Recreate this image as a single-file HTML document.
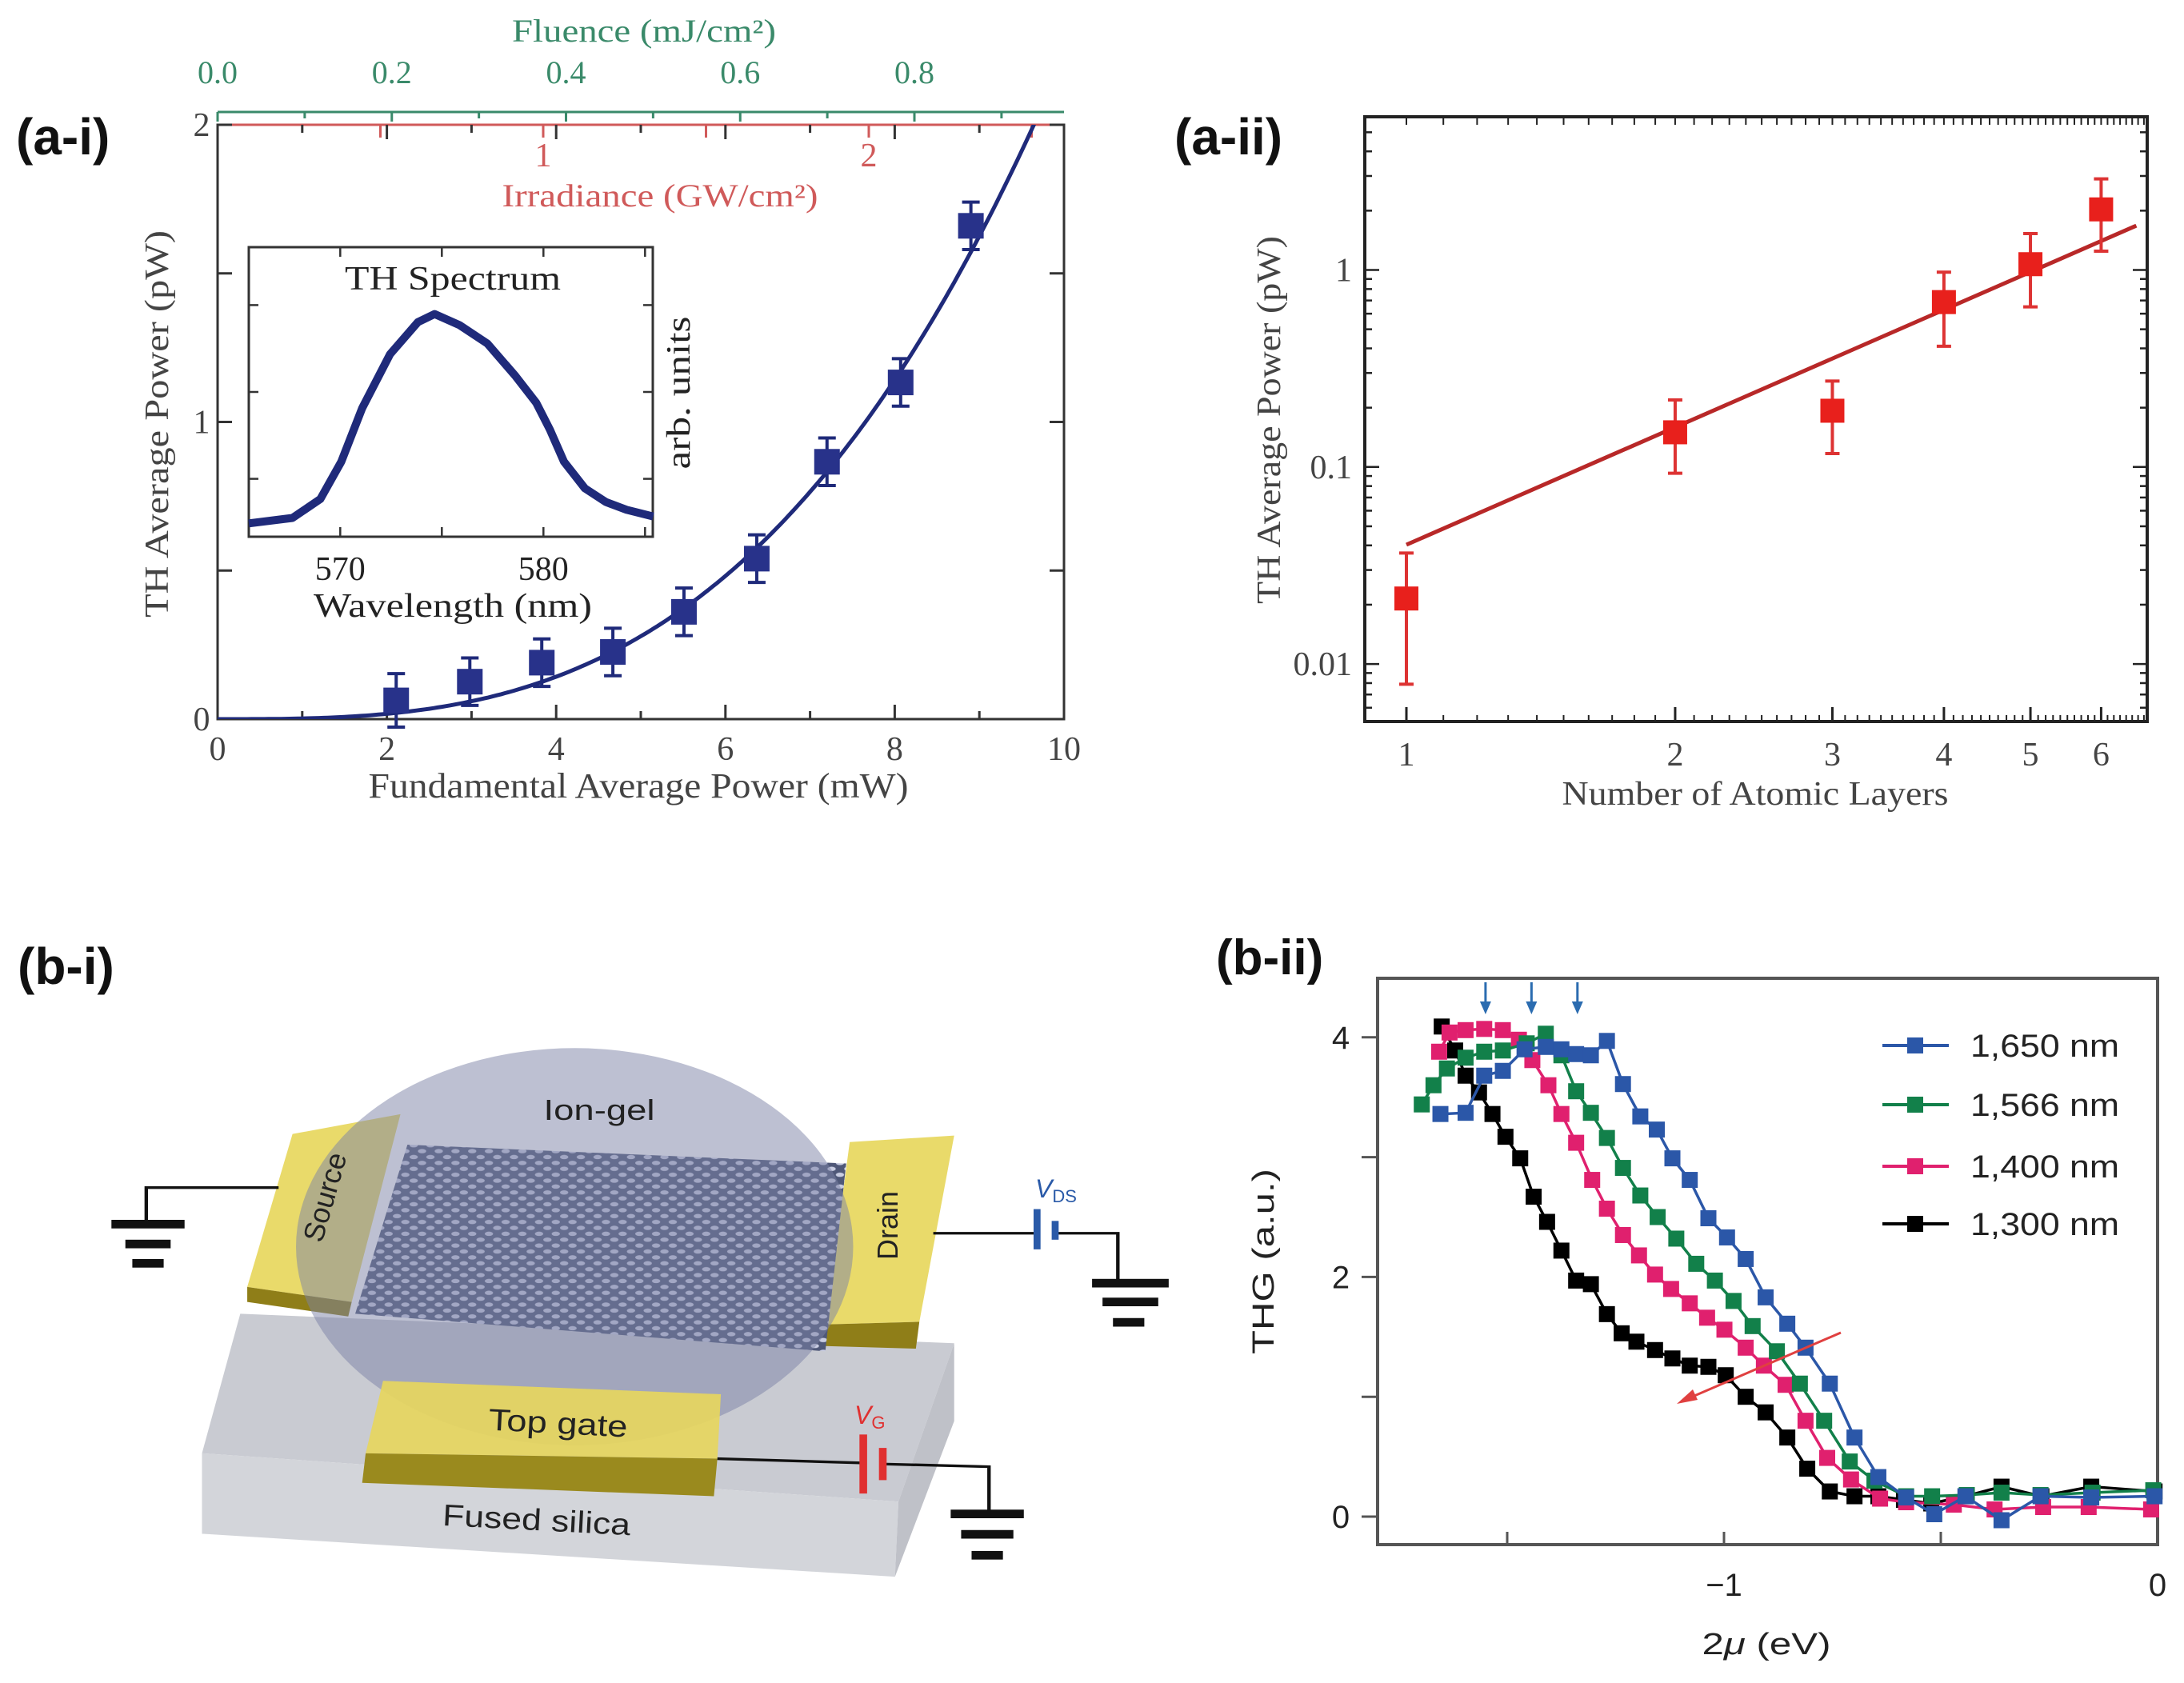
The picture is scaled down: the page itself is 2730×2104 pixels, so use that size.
<!DOCTYPE html>
<html><head><meta charset="utf-8"><style>
html,body{margin:0;padding:0;background:#fff;}
svg{display:block;}
.serif{font-family:"Liberation Serif",serif;}
.sans{font-family:"Liberation Sans",sans-serif;}
</style></head><body>
<svg id="fig" xmlns="http://www.w3.org/2000/svg" width="2730" height="2104" viewBox="0 0 2730 2104">
<rect width="2730" height="2104" fill="#fff"/>
<defs>
<pattern id="hc" patternUnits="userSpaceOnUse" width="24" height="22">
<rect width="24" height="22" fill="#4f5878"/>
<ellipse cx="6" cy="5" rx="6" ry="4" fill="#c9cde2"/>
<ellipse cx="18" cy="16" rx="6" ry="4" fill="#c9cde2"/>
</pattern>
<clipPath id="clipAi"><rect x="272" y="156" width="1058" height="743"/></clipPath>
</defs>

<!-- ================= (a-i) ================= -->
<g id="ai">
<text x="20" y="193" class="sans" font-size="64" font-weight="bold" fill="#111">(a-i)</text>
<text x="805" y="52" class="serif" font-size="40" fill="#3a8a6a" text-anchor="middle" textLength="330" lengthAdjust="spacingAndGlyphs">Fluence (mJ/cm²)</text>
<line x1="272" y1="140" x2="1330" y2="140" stroke="#3a8a6a" stroke-width="3"/>
<g id="aiFluTicks"></g>
<text x="825" y="258" class="serif" font-size="40" fill="#d05a5a" text-anchor="middle" textLength="395" lengthAdjust="spacingAndGlyphs">Irradiance (GW/cm²)</text>
<rect x="272" y="156" width="1058" height="743" fill="none" stroke="#333" stroke-width="3"/>
<line x1="272" y1="156" x2="1330" y2="156" stroke="#d05a5a" stroke-width="3"/>
<g id="aiTicks"></g>
<text transform="translate(210,530) rotate(-90)" class="serif" font-size="42" fill="#444" text-anchor="middle" textLength="484" lengthAdjust="spacingAndGlyphs">TH Average Power (pW)</text>
<text x="798" y="997" class="serif" font-size="44" fill="#444" text-anchor="middle" textLength="675" lengthAdjust="spacingAndGlyphs">Fundamental Average Power (mW)</text>
<!-- inset -->
<rect x="311" y="309" width="505" height="362" fill="#fff" stroke="#333" stroke-width="3"/>
<g id="insetTicks"></g>
<text x="566" y="362" class="serif" font-size="42" fill="#222" text-anchor="middle" textLength="270" lengthAdjust="spacingAndGlyphs">TH Spectrum</text>
<text transform="translate(862,491) rotate(-90)" class="serif" font-size="42" fill="#222" text-anchor="middle" textLength="191" lengthAdjust="spacingAndGlyphs">arb. units</text>
<text x="566" y="771" class="serif" font-size="42" fill="#222" text-anchor="middle" textLength="348" lengthAdjust="spacingAndGlyphs">Wavelength (nm)</text>
<g id="aiMarks"></g>
</g>

<!-- ================= (a-ii) ================= -->
<g id="aii">
<text x="1468" y="193" class="sans" font-size="64" font-weight="bold" fill="#111">(a-ii)</text>
<rect x="1706" y="146" width="978" height="756" fill="none" stroke="#222" stroke-width="4"/>
<g id="aiiTicks"></g>
<text transform="translate(1600,525) rotate(-90)" class="serif" font-size="42" fill="#444" text-anchor="middle" textLength="460" lengthAdjust="spacingAndGlyphs">TH  Average Power (pW)</text>
<text x="2194" y="1006" class="serif" font-size="42" fill="#444" text-anchor="middle" textLength="483" lengthAdjust="spacingAndGlyphs">Number of Atomic Layers</text>
<g id="aiiMarks"></g>
</g>

<!-- ================= (b-i) diagram ================= -->
<g id="bi">
<text x="22" y="1230" class="sans" font-size="64" font-weight="bold" fill="#111">(b-i)</text>
<g transform="translate(0,1052) scale(0.8706,0.6709)">
<polygon points="345,880 1370,935 1290,1230 290,1140" fill="#c9cbd2"/>
<polygon points="290,1140 1290,1230 1285,1370 290,1290" fill="#d3d5da"/>
<polygon points="1290,1230 1370,935 1370,1080 1285,1370" fill="#bfc1c8"/>
<polygon points="420,545 575,508 505,858 355,830" fill="#e9da6a"/>
<polygon points="355,830 505,858 500,885 355,858" fill="#8f7e18"/>
<polygon points="1220,560 1370,548 1320,895 1185,900" fill="#e9da6a"/>
<polygon points="1185,900 1320,895 1315,945 1180,940" fill="#8f7e18"/>
<polygon points="585,565 1215,600 1185,950 510,880" fill="url(#hc)"/>
<ellipse cx="825" cy="755" rx="400" ry="370" fill="#7c82a6" fill-opacity="0.5"/>
<polygon points="550,1005 1035,1030 1030,1150 525,1140" fill="#e6d65e" fill-opacity="0.92"/>
<polygon points="525,1140 1030,1150 1025,1220 520,1195" fill="#9a8a1e"/>
<g stroke="#111" stroke-width="5" fill="none">
<polyline points="400,645 210,645 210,710"/>
<polyline points="1340,730 1490,730"/>
<polyline points="1515,730 1605,730 1605,820"/>
<polyline points="1030,1150 1240,1158"/>
<polyline points="1268,1160 1420,1165 1420,1250"/>
</g>
<g fill="#111">
<rect x="160" y="705" width="105" height="16"/><rect x="180" y="742" width="65" height="16"/><rect x="190" y="778" width="45" height="16"/>
<rect x="1568" y="815" width="110" height="16"/><rect x="1583" y="850" width="80" height="16"/><rect x="1598" y="888" width="45" height="16"/>
<rect x="1365" y="1245" width="105" height="16"/><rect x="1380" y="1283" width="75" height="16"/><rect x="1395" y="1322" width="45" height="16"/>
</g>
<rect x="1484" y="685" width="10" height="75" fill="#2a5aa8"/>
<rect x="1510" y="707" width="10" height="35" fill="#2a5aa8"/>
<rect x="1234" y="1105" width="11" height="110" fill="#e03030"/>
<rect x="1262" y="1130" width="11" height="60" fill="#e03030"/>
</g>
<text x="749" y="1400" class="sans" font-size="36" fill="#222" text-anchor="middle" textLength="139" lengthAdjust="spacingAndGlyphs">Ion-gel</text>
<text transform="translate(418,1500) rotate(-74)" class="sans" font-size="36" fill="#222" text-anchor="middle">Source</text>
<text transform="translate(1122,1532) rotate(-90)" class="sans" font-size="36" fill="#222" text-anchor="middle">Drain</text>
<text transform="translate(697,1792) rotate(3)" class="sans" font-size="38" fill="#222" text-anchor="middle" textLength="174" lengthAdjust="spacingAndGlyphs">Top gate</text>
<text transform="translate(670,1913) rotate(3)" class="sans" font-size="38" fill="#222" text-anchor="middle" textLength="235" lengthAdjust="spacingAndGlyphs">Fused silica</text>
<text x="1294" y="1497" class="sans" font-size="32" font-style="italic" fill="#2a5aa8">V<tspan font-size="22" font-style="normal" dy="6">DS</tspan></text>
<text x="1068" y="1780" class="sans" font-size="32" font-style="italic" fill="#e03030">V<tspan font-size="22" font-style="normal" dy="6">G</tspan></text>
</g>

<!-- ================= (b-ii) ================= -->
<g id="bii">
<text x="1520" y="1218" class="sans" font-size="62" font-weight="bold" fill="#111">(b-ii)</text>
<rect x="1722" y="1223" width="975" height="708" fill="none" stroke="#555" stroke-width="4"/>
<g id="biiTicks"></g>
<text transform="translate(1592,1577) rotate(-90)" class="sans" font-size="38" fill="#222" text-anchor="middle" textLength="232" lengthAdjust="spacingAndGlyphs">THG (a.u.)</text>
<text x="2208" y="2068" class="sans" font-size="38" fill="#222" text-anchor="middle" textLength="161" lengthAdjust="spacingAndGlyphs">2<tspan font-style="italic">μ</tspan> (eV)</text>
<g id="biiMarks"></g>
<g id="biiLegend"></g>
</g>
</svg>

<script>
const NS="http://www.w3.org/2000/svg";
function mk(parent,tag,attrs){const e=document.createElementNS(NS,tag);for(const k in attrs)e.setAttribute(k,attrs[k]);parent.appendChild(e);return e;}

/* ---------- (a-i) data ---------- */
const aiPower=[2.11,2.98,3.83,4.67,5.51,6.37,7.2,8.07,8.9];
const aiTH=[0.063,0.126,0.19,0.226,0.361,0.54,0.866,1.133,1.66];
const aiErr=[0.09,0.08,0.08,0.08,0.08,0.08,0.08,0.08,0.08];
const aiFitCoef=[0.00223];
const aiXTicks=[0,2,4,6,8,10];
const aiYTicks=[0,1,2];
const fluTicks=[0.0,0.2,0.4,0.6,0.8];
const irrTicks=[1,2];
const insetWl=[565.5,567.65,569.02,570.05,571.08,572.45,573.82,574.64,575.87,577.24,578.61,579.64,580.32,581.01,582.04,583.07,584.09,585.4];
const insetInt=[0.046,0.065,0.13,0.259,0.444,0.63,0.741,0.769,0.731,0.667,0.556,0.463,0.37,0.259,0.167,0.12,0.093,0.07];
const insetXTicks=[570,580];

/* ---------- (a-ii) data ---------- */
const aiiLayers=[1,2,3,4,5,6];
const aiiPower=[0.0215,0.150,0.193,0.687,1.07,2.03];
const aiiErrHi=[0.0366,0.219,0.273,0.975,1.53,2.9];
const aiiErrLo=[0.0079,0.093,0.117,0.41,0.65,1.245];
const aiiFit=[0.0403,1.981];
const aiiFitRange=[1,6.57];
const aiiXTicks=[1,2,3,4,5,6];
const aiiYTicks=[0.01,0.1,1];

/* ---------- (b-ii) data ---------- */
const biiNames=["1,650 nm","1,566 nm","1,400 nm","1,300 nm"];
const bii1650x=[-1.654,-1.596,-1.553,-1.510,-1.46,-1.411,-1.375,-1.341,-1.307,-1.270,-1.233,-1.193,-1.155,-1.119,-1.079,-1.036,-0.993,-0.950,-0.904,-0.854,-0.812,-0.756,-0.699,-0.644,-0.58,-0.515,-0.443,-0.360,-0.27,-0.153,-0.007];
const bii1650y=[3.36,3.37,3.68,3.72,3.90,3.92,3.90,3.86,3.85,3.97,3.61,3.34,3.23,2.99,2.81,2.49,2.33,2.15,1.83,1.61,1.41,1.11,0.66,0.33,0.16,0.02,0.17,-0.03,0.17,0.16,0.17];
const bii1566x=[-1.697,-1.670,-1.639,-1.596,-1.553,-1.510,-1.455,-1.411,-1.375,-1.341,-1.307,-1.270,-1.233,-1.193,-1.153,-1.110,-1.064,-1.021,-0.978,-0.934,-0.878,-0.825,-0.769,-0.710,-0.653,-0.58,-0.52,-0.44,-0.36,-0.27,-0.15,-0.01];
const bii1566y=[3.44,3.60,3.74,3.83,3.88,3.89,3.95,4.03,3.85,3.55,3.37,3.16,2.91,2.68,2.50,2.32,2.11,1.97,1.80,1.59,1.38,1.11,0.80,0.46,0.30,0.17,0.17,0.18,0.20,0.18,0.20,0.22];
const bii1400x=[-1.657,-1.633,-1.596,-1.553,-1.510,-1.473,-1.442,-1.405,-1.375,-1.341,-1.304,-1.270,-1.233,-1.196,-1.159,-1.122,-1.079,-1.039,-0.999,-0.950,-0.908,-0.858,-0.812,-0.762,-0.707,-0.64,-0.58,-0.47,-0.376,-0.264,-0.159,-0.015];
const bii1400y=[3.88,4.04,4.06,4.07,4.06,3.98,3.81,3.60,3.36,3.12,2.81,2.57,2.35,2.18,2.02,1.90,1.78,1.66,1.56,1.41,1.26,1.10,0.80,0.49,0.31,0.15,0.12,0.10,0.06,0.08,0.08,0.06];
const bii1300x=[-1.651,-1.620,-1.596,-1.565,-1.534,-1.504,-1.470,-1.439,-1.408,-1.375,-1.341,-1.307,-1.270,-1.236,-1.202,-1.159,-1.119,-1.079,-1.036,-0.996,-0.950,-0.904,-0.854,-0.808,-0.756,-0.699,-0.644,-0.585,-0.522,-0.443,-0.360,-0.268,-0.153,-0.007];
const bii1300y=[4.09,3.89,3.68,3.54,3.36,3.17,2.99,2.67,2.46,2.22,1.97,1.94,1.69,1.53,1.46,1.39,1.32,1.26,1.25,1.18,1.00,0.87,0.66,0.40,0.21,0.17,0.17,0.14,0.11,0.17,0.25,0.17,0.25,0.21];
const biiPeakArrows=[-1.55,-1.444,-1.338];
const biiXTicks=[-1,0];
const biiYTicks=[0,2,4];
const biiColors=["#2b57a8","#12804a","#e0206e","#000000"];

/* ---------- scales ---------- */
const sxA=v=>272+v*105.8, syA=v=>899-v*371.5;
const sxF=v=>272+v*1088.75, sxIr=v=>272+v*407;
const sxI=v=>311+(v-565.5)*25.4, syI=v=>671-v*362;
const sx2=v=>1758+Math.log10(v)*1116, sy2=v=>337.5-Math.log10(v)*246.3;
const sxB=v=>2697+v*542, syB=v=>1896-v*149.8;

/* ---------- (a-i) ticks ---------- */
const aT=document.getElementById('aiTicks');
for(let v=0;v<=10;v++){const len=(v%2===0)?18:10;
 const t1=mk(aT,'line',{x1:sxA(v),y1:899,x2:sxA(v),y2:899-len,stroke:'#333','stroke-width':3});
 
 const t2=mk(aT,'line',{x1:sxA(v),y1:156,x2:sxA(v),y2:156+len,stroke:'#333','stroke-width':3});
 }
for(let v=0;v<=2.001;v+=0.5){
 const t=mk(aT,'line',{x1:272,y1:syA(v),x2:290,y2:syA(v),stroke:'#333','stroke-width':3});
 
 const r=mk(aT,'line',{x1:1330,y1:syA(v),x2:1312,y2:syA(v),stroke:'#333','stroke-width':3});
 }
aiXTicks.forEach(v=>{const t=mk(aT,'text',{x:sxA(v),y:950,'text-anchor':'middle','font-size':42,fill:'#444',class:'serif'});t.textContent=v;
 });
aiYTicks.forEach(v=>{const t=mk(aT,'text',{x:252,y:syA(v)+14,'text-anchor':'middle','font-size':42,fill:'#444',class:'serif'});t.textContent=v;
 });
irrTicks.forEach(v=>{const t=mk(aT,'text',{x:sxIr(v),y:208,'text-anchor':'middle','font-size':42,fill:'#d05a5a',class:'serif'});t.textContent=v;
 });
for(let v=0.5;v<=2.5;v+=0.5){const t=mk(aT,'line',{x1:sxIr(v),y1:156,x2:sxIr(v),y2:172,stroke:'#d05a5a','stroke-width':3});
 }
const fT=document.getElementById('aiFluTicks');
for(let i=0;i<=9;i++){const v=i/10;const t=mk(fT,'line',{x1:sxF(v),y1:140,x2:sxF(v),y2:(i%2===0)?152:148,stroke:'#3a8a6a','stroke-width':3});
 }
fluTicks.forEach(v=>{const t=mk(fT,'text',{x:sxF(v),y:104,'text-anchor':'middle','font-size':40,fill:'#3a8a6a',class:'serif'});t.textContent=v.toFixed(1);
 });
/* inset ticks */
const iT=document.getElementById('insetTicks');
for(let v=570;v<=585;v+=5){const t=mk(iT,'line',{x1:sxI(v),y1:671,x2:sxI(v),y2:659,stroke:'#333','stroke-width':2.5});
 
 const u=mk(iT,'line',{x1:sxI(v),y1:309,x2:sxI(v),y2:321,stroke:'#333','stroke-width':2.5});
 }
[0.2,0.5,0.8].forEach(v=>{const t=mk(iT,'line',{x1:311,y1:syI(v),x2:323,y2:syI(v),stroke:'#333','stroke-width':2.5});
 
 const u=mk(iT,'line',{x1:816,y1:syI(v),x2:804,y2:syI(v),stroke:'#333','stroke-width':2.5});
 });
insetXTicks.forEach(v=>{const t=mk(iT,'text',{x:sxI(v),y:725,'text-anchor':'middle','font-size':42,fill:'#222',class:'serif'});t.textContent=v;
 });

/* ---------- (a-i) marks ---------- */
const aM=document.getElementById('aiMarks');
let ip='';insetWl.forEach((w,i)=>{ip+=(i?'L':'M')+sxI(w).toFixed(1)+','+syI(insetInt[i]).toFixed(1);});
const spec=mk(aM,'path',{d:ip,fill:'none',stroke:'#1f2a7a','stroke-width':10,'stroke-linejoin':'round'});

let fp='';for(let x=0;x<=10.001;x+=0.05){const y=aiFitCoef[0]*x*x*x;fp+=(x?'L':'M')+sxA(x).toFixed(1)+','+syA(y).toFixed(1);}
const fit=mk(aM,'path',{d:fp,fill:'none',stroke:'#1f2a7a','stroke-width':5,'clip-path':'url(#clipAi)'});

aiPower.forEach((x,i)=>{
 const g=mk(aM,'g',{});
 
 const cx=sxA(x),cy=syA(aiTH[i]),t=syA(aiTH[i]+aiErr[i]),b=syA(aiTH[i]-aiErr[i]);
 mk(g,'line',{x1:cx,y1:t,x2:cx,y2:b,stroke:'#1f2a7a','stroke-width':4});
 mk(g,'line',{x1:cx-11,y1:t,x2:cx+11,y2:t,stroke:'#1f2a7a','stroke-width':4});
 mk(g,'line',{x1:cx-11,y1:b,x2:cx+11,y2:b,stroke:'#1f2a7a','stroke-width':4});
 mk(g,'rect',{x:cx-16,y:cy-16,width:32,height:32,fill:'#28328a'});
});

/* ---------- (a-ii) ticks ---------- */
const a2T=document.getElementById('aiiTicks');
aiiXTicks.forEach(v=>{const t=mk(a2T,'line',{x1:sx2(v),y1:902,x2:sx2(v),y2:884,stroke:'#222','stroke-width':3});
 
 const l=mk(a2T,'text',{x:sx2(v),y:957,'text-anchor':'middle','font-size':42,fill:'#444',class:'serif'});l.textContent=v;
 });
for(let v=0.9;v<=6.75;v+=0.1){if(sx2(v)<1708||sx2(v)>2682)continue;
 const t=mk(a2T,'line',{x1:sx2(v),y1:902,x2:sx2(v),y2:894,stroke:'#222','stroke-width':2});
 
 const u=mk(a2T,'line',{x1:sx2(v),y1:146,x2:sx2(v),y2:156,stroke:'#222','stroke-width':2});
 }
[0.001,0.01,0.1,1].forEach(d=>{for(let k=1;k<=9;k++){const v=d*k;const y=sy2(v);if(y<148||y>900)continue;
 const len=k===1?18:9;
 const t=mk(a2T,'line',{x1:1706,y1:y,x2:1706+len,y2:y,stroke:'#222','stroke-width':2.5});
 
 const u=mk(a2T,'line',{x1:2684,y1:y,x2:2684-len,y2:y,stroke:'#222','stroke-width':2.5});
 }});
aiiYTicks.forEach(v=>{const t=mk(a2T,'text',{x:1690,y:sy2(v)+14,'text-anchor':'end','font-size':42,fill:'#444',class:'serif'});t.textContent=String(v);
 });

/* ---------- (a-ii) marks ---------- */
const a2M=document.getElementById('aiiMarks');
const fitLine=mk(a2M,'line',{x1:sx2(aiiFitRange[0]),y1:sy2(aiiFit[0]*Math.pow(aiiFitRange[0],aiiFit[1])),x2:sx2(aiiFitRange[1]),y2:sy2(aiiFit[0]*Math.pow(aiiFitRange[1],aiiFit[1])),stroke:'#b82828','stroke-width':5});

aiiLayers.forEach((x,i)=>{
 const g=mk(a2M,'g',{});
 
 const cx=sx2(x),cy=sy2(aiiPower[i]),t=sy2(aiiErrHi[i]),b=sy2(aiiErrLo[i]);
 mk(g,'line',{x1:cx,y1:t,x2:cx,y2:b,stroke:'#d33','stroke-width':4});
 mk(g,'line',{x1:cx-9,y1:t,x2:cx+9,y2:t,stroke:'#d33','stroke-width':4});
 mk(g,'line',{x1:cx-9,y1:b,x2:cx+9,y2:b,stroke:'#d33','stroke-width':4});
 mk(g,'rect',{x:cx-15,y:cy-15,width:30,height:30,fill:'#e8201c'});
});

/* ---------- (b-ii) ticks ---------- */
const bT=document.getElementById('biiTicks');
for(let v=0;v<=4;v++){const t=mk(bT,'line',{x1:1702,y1:syB(v),x2:1722,y2:syB(v),stroke:'#555','stroke-width':3});
 }
biiYTicks.forEach(v=>{const t=mk(bT,'text',{x:1676,y:syB(v)+14,'text-anchor':'middle','font-size':40,fill:'#222',class:'sans'});t.textContent=v;
 });
for(let v=-1.5;v<=0.001;v+=0.5){const t=mk(bT,'line',{x1:sxB(v),y1:1931,x2:sxB(v),y2:1915,stroke:'#555','stroke-width':3});
 }
biiXTicks.forEach(v=>{const t=mk(bT,'text',{x:sxB(v),y:1995,'text-anchor':'middle','font-size':40,fill:'#222',class:'sans'});t.textContent=v<0?'\u2212'+Math.abs(v):v;
 });

/* ---------- (b-ii) marks ---------- */
const bM=document.getElementById('biiMarks');
const biiX=[bii1650x,bii1566x,bii1400x,bii1300x];
const biiY=[bii1650y,bii1566y,bii1400y,bii1300y];
[3,2,1,0].forEach(s=>{
 const g=mk(bM,'g',{});
 
 let d='';biiX[s].forEach((x,i)=>{d+=(i?'L':'M')+sxB(x).toFixed(1)+','+syB(biiY[s][i]).toFixed(1);});
 mk(g,'path',{d:d,fill:'none',stroke:biiColors[s],'stroke-width':3.5});
 biiX[s].forEach((x,i)=>{mk(g,'rect',{x:sxB(x)-10,y:syB(biiY[s][i])-10,width:20,height:20,fill:biiColors[s]});});
});
biiPeakArrows.forEach(v=>{const g=mk(bM,'g',{});
 
 const x=sxB(v);
 mk(g,'line',{x1:x,y1:1228,x2:x,y2:1262,stroke:'#2b6cb0','stroke-width':3});
 mk(g,'polygon',{points:(x-7)+',1252 '+(x+7)+',1252 '+x+',1268',fill:'#2b6cb0'});});
const ra=mk(bM,'g',{});

mk(ra,'line',{x1:2301,y1:1666,x2:2104,y2:1751,stroke:'#e04040','stroke-width':3});
mk(ra,'polygon',{points:'2096,1755 2116,1737 2122,1750',fill:'#e04040'});

/* legend */
const bL=document.getElementById('biiLegend');
const legY=[1307,1381,1458,1530];
biiNames.forEach((n,i)=>{
 const g=mk(bL,'g',{});
 
 mk(g,'line',{x1:2353,y1:legY[i],x2:2436,y2:legY[i],stroke:biiColors[i],'stroke-width':4});
 mk(g,'rect',{x:2384,y:legY[i]-10,width:20,height:20,fill:biiColors[i]});
 const t=mk(g,'text',{x:2463,y:legY[i]+14,'font-size':40,fill:'#222',class:'sans',textLength:186,lengthAdjust:'spacingAndGlyphs'});
 t.textContent=n;
});
</script>
</body></html>
